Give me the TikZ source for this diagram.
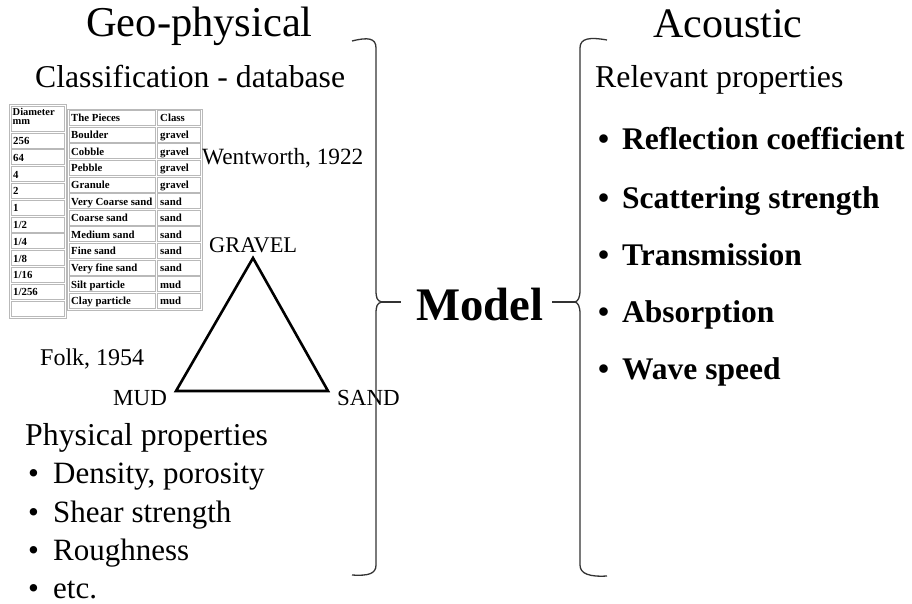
\documentclass[tikz,border=0pt]{standalone}
\usepackage{fontspec}
\setmainfont{Liberation Serif}
\newcommand{\fsz}[1]{\fontsize{#1}{#1}\selectfont}
\begin{document}
\begin{tikzpicture}[x=1pt,y=-1pt,
  txt/.style={inner sep=0pt, anchor=base west},
  celltxt/.style={inner sep=0pt, anchor=base west, font=\fsz{10.8}\bfseries},
  cellbox/.style={draw=gray!55, line width=0.7pt},
  bracestyle/.style={draw=gray!40!black, line width=1.3pt},
  bulletdot/.style={inner sep=0pt, anchor=base west}]
\useasboundingbox (0,0) rectangle (912,604);

% Titles
\node[txt, font=\fsz{42.5}] (geo) at (86,37) {Geo-physical};
\node[txt, font=\fsz{31.7}] (classif) at (35,88) {Classification - database};
\node[txt, font=\fsz{42}] (acou) at (653,38) {Acoustic};
\node[txt, font=\fsz{31.8}] (relev) at (595,88) {Relevant properties};

% Left table: diameters
\draw[cellbox] (9,104) rectangle (66,318);
\draw[cellbox] (11,106) rectangle (64,131);
\node[celltxt, align=left, anchor=north west, font=\fsz{10.5}\bfseries] (dhead) at (12.5,108) {Diameter\\[-1.5pt]mm};
\foreach \d [count=\i from 0] in {256,64,4,2,1,1/2,1/4,1/8,1/16,1/256,{}} {
  \draw[cellbox] (11,{133+\i*16.8}) rectangle (64,{133+\i*16.8+15});
  \node[celltxt] (d\i) at (13,{133+\i*16.8+11.5}) {\d};
}

% Middle table: pieces and class
\draw[cellbox] (67,109) rectangle (202,310);
\foreach \p/\c [count=\i from 0] in {The Pieces/Class,Boulder/gravel,Cobble/gravel,Pebble/gravel,Granule/gravel,Very Coarse sand/sand,Coarse sand/sand,Medium sand/sand,Fine sand/sand,Very fine sand/sand,Silt particle/mud,Clay particle/mud} {
  \draw[cellbox] (69,{110.5+\i*16.6}) rectangle (155,{110.5+\i*16.6+15});
  \draw[cellbox] (157,{110.5+\i*16.6}) rectangle (200,{110.5+\i*16.6+15});
  \node[celltxt] (p\i) at (71,{110.5+\i*16.6+11.5}) {\p};
  \node[celltxt] (c\i) at (160,{110.5+\i*16.6+11.5}) {\c};
}

\node[txt, font=\fsz{23.3}] (went) at (202,165) {Wentworth, 1922};

% Triangle
\coordinate (apex) at (253,258);
\coordinate (mudc) at (176,391);
\coordinate (sandc) at (328,391);
\draw[line width=2.6pt, line join=miter] (apex) -- (mudc) -- (sandc) -- cycle;
\node[txt, font=\fsz{22.4}] (gravel) at (209,252) {GRAVEL};
\node[txt, font=\fsz{23}] (mud) at (113,405) {MUD};
\node[txt, font=\fsz{23}] (sand) at (337,405) {SAND};
\node[txt, font=\fsz{24}] (folk) at (40,365) {Folk, 1954};

% Physical properties
\node[txt, font=\fsz{31.8}] (phys) at (25,445) {Physical properties};
\foreach \t/\y [count=\i] in {{Density, porosity}/483,Shear strength/522,Roughness/560,etc./598} {
  \node[bulletdot, font=\fsz{31}] (lb\i) at (28,\y) {•};
  \node[txt, font=\fsz{31}] (lt\i) at (53,\y) {\t};
}

% Acoustic properties
\foreach \t/\y [count=\i] in {Reflection coefficient/150,Scattering strength/208,Transmission/265,Absorption/322,Wave speed/379} {
  \node[bulletdot, font=\fsz{31.5}\bfseries] (rb\i) at (598,\y) {•};
  \node[txt, font=\fsz{31.5}\bfseries] (rt\i) at (622,\y) {\t};
}

% Model
\node[txt, font=\fsz{46.7}\bfseries] (model) at (416,320) {Model};

% Braces
\coordinate (ltip) at (382,302);
\coordinate (rtip) at (575,302);
\path[bracestyle] (352,41) .. controls (368,37) and (376,38) .. (376,48)
  -- (376,290) .. controls (376,298) and (377,301) .. (ltip)
  .. controls (377,303) and (376,306) .. (376,314)
  -- (376,565) .. controls (376,574) and (368,576) .. (352,575);
\path[bracestyle] (607,40) .. controls (590,37) and (580,38) .. (580,48)
  -- (580,290) .. controls (580,298) and (578,301) .. (rtip)
  .. controls (578,303) and (580,306) .. (580,314)
  -- (580,565) .. controls (580,574) and (590,577) .. (607,576);
\coordinate (ldash) at (401,302);
\coordinate (rdash) at (552,302);
\draw[bracestyle] (ltip) -- (ldash);
\draw[bracestyle] (rdash) -- (rtip);
\end{tikzpicture}
\end{document}
